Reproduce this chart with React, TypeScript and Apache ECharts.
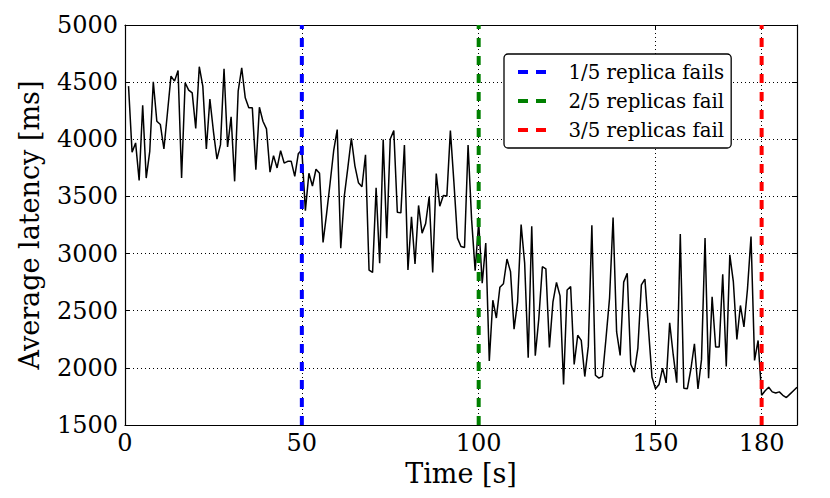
import React, { useEffect, useRef } from "react";
import * as echarts from "echarts";

// Average latency [ms], one sample per second (t = 1 .. 190 s)
const latency = [
  4465, 3886, 3968, 3640, 4298, 3661, 3895, 4503, 4158, 4129,
  3915, 4230, 4553, 4509, 4602, 3661, 4495, 4430, 4406, 4094,
  4635, 4465, 3915, 4351, 4070, 3827, 3953, 4617, 3933, 4196,
  3632, 4421, 4626, 4363, 4275, 4275, 3734, 4281, 4158, 4091,
  3713, 3857, 3749, 3901, 3792, 3807, 3807, 3675, 3874, 3909,
  3376, 3703, 3591, 3738, 3703, 3097, 3350, 3620, 3900, 4085,
  3047, 3500, 3750, 4009, 3768, 3620, 3585, 3865, 2856, 2835,
  3576, 2915, 3997, 3135, 4003, 4076, 3362, 3356, 3950, 2856,
  3321, 2910, 3421, 3179, 3262, 3497, 2835, 3700, 3415, 3509,
  3503, 4076, 3621, 3135, 3062, 3053, 3950, 3297, 2850, 3274,
  2740, 3092, 2060, 2592, 2436, 2706, 2736, 2952, 2842, 2339,
  2578, 3253, 2916, 2088, 3239, 2106, 2431, 2885, 2866, 2178,
  2578, 2747, 2630, 1854, 2682, 2712, 2030, 2285, 2240, 1924,
  2190, 3247, 1935, 1910, 1925, 2259, 2610, 3315, 2314, 2109,
  2750, 2827, 2031, 1962, 2170, 2726, 2776, 2343, 1918, 1818,
  1855, 1998, 1868, 2395, 2115, 1870, 3171, 1822, 1818, 1990,
  2211, 1815, 2072, 3136, 1910, 2621, 2182, 2182, 2819, 2013,
  2989, 2755, 2248, 2546, 2358, 2690, 3150, 2065, 2240, 1760,
  1800, 1830, 1790, 1780, 1790, 1760, 1740, 1770, 1800, 1830,
];
const seconds = latency.map((_, i) => i + 1);

const failTimes = [50, 100, 180];
const failLabels = ["1/5 replica fails", "2/5 replicas fail", "3/5 replicas fail"];
const failColors = ["#0000ff", "#008000", "#ff0000"];

const xTicks = [0, 50, 100, 150, 180];
const xMin = 0;
const xMax = 190;
const yMin = 1500;
const yMax = 5000;
const yStep = 500;

const FONT = "DejaVu Serif";

export default function App() {
  const ref = useRef<HTMLDivElement>(null);
  useEffect(() => {
    if (!ref.current) return;
    const chart = echarts.init(ref.current, undefined, { renderer: "svg" });
    const gridLine = { show: true, lineStyle: { color: "#000", width: 1, type: [1, 3] as any } };
    const spine = { show: true, onZero: false, lineStyle: { color: "#000", width: 1.2 } };
    const tickIn = { show: true, inside: true, length: 5, lineStyle: { color: "#000", width: 1 } };
    const option: any = {
      animation: false,
      grid: { left: 125, top: 25, right: 33, bottom: 73, containLabel: false },
      xAxis: [
        {
          type: "value",
          min: xMin,
          max: xMax,
          position: "bottom",
          axisLine: spine,
          axisTick: { ...tickIn, customValues: xTicks },
          axisLabel: {
            customValues: xTicks,
            formatter: (v: number) => String(v),
            color: "#000",
            fontFamily: FONT,
            fontSize: 24,
            margin: 6,
          },
          splitLine: gridLine,
          name: "Time [s]",
          nameLocation: "middle",
          nameGap: 32,
          nameTextStyle: { color: "#000", fontFamily: FONT, fontSize: 27 },
        },
        {
          type: "value",
          min: xMin,
          max: xMax,
          position: "top",
          axisLine: spine,
          axisTick: { ...tickIn, customValues: xTicks },
          axisLabel: { show: false, customValues: xTicks },
          splitLine: { show: false },
        },
      ],
      yAxis: [
        {
          type: "value",
          min: yMin,
          max: yMax,
          interval: yStep,
          position: "left",
          axisLine: spine,
          axisTick: tickIn,
          axisLabel: {
            formatter: (v: number) => String(v),
            color: "#000",
            fontFamily: FONT,
            fontSize: 24,
            margin: 7,
          },
          splitLine: gridLine,
          name: "Average latency [ms]",
          nameLocation: "middle",
          nameGap: 82,
          nameTextStyle: { color: "#000", fontFamily: FONT, fontSize: 27 },
        },
        {
          type: "value",
          min: yMin,
          max: yMax,
          interval: yStep,
          position: "right",
          axisLine: spine,
          axisTick: tickIn,
          axisLabel: { show: false },
          splitLine: { show: false },
        },
      ],
      legend: {
        orient: "vertical",
        left: 504,
        top: 54,
        padding: [8, 7, 8, 14],
        itemGap: 9,
        itemWidth: 29,
        itemHeight: 4,
        icon: "path://M0,0H10V4H0Z M18,0H28V4H18Z",
        itemStyle: { borderWidth: 0 },
        backgroundColor: "#fff",
        borderColor: "#000",
        borderWidth: 1.3,
        borderRadius: 4,
        textStyle: {
          color: "#000",
          fontFamily: FONT,
          fontSize: 19.8,
          lineHeight: 20,
          padding: [0, 0, 0, 17],
        },
        data: failLabels,
      },
      series: [
        {
          type: "line",
          name: "latency",
          xAxisIndex: 0,
          yAxisIndex: 0,
          data: seconds.map((t, i) => [t, latency[i]]),
          showSymbol: false,
          symbol: "none",
          lineStyle: { color: "#000", width: 1.5 },
          itemStyle: { color: "#000" },
          z: 3,
        },
        ...failTimes.map((t, i) => ({
          type: "line",
          name: failLabels[i],
          xAxisIndex: 0,
          yAxisIndex: 0,
          data: [
            [t, yMin],
            [t, yMax],
          ],
          showSymbol: false,
          symbol: "none",
          color: failColors[i],
          itemStyle: { color: failColors[i] },
          lineStyle: { color: failColors[i], width: 4, type: [9, 9] },
          z: 4,
        })),
      ],
    };
    chart.setOption(option);
    return () => chart.dispose();
  }, []);
  return (
    <div
      ref={ref}
      style={{ position: "fixed", left: 0, top: 0, width: 830, height: 498, background: "#fff" }}
    />
  );
}
